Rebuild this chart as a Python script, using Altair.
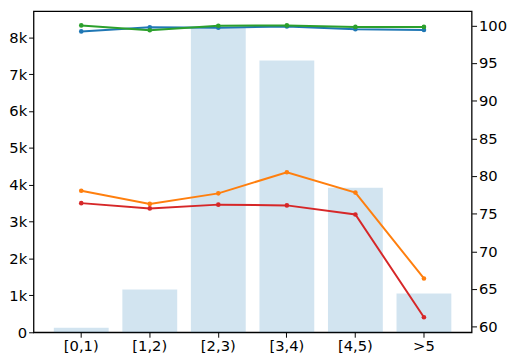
import altair as alt
import pandas as pd

categories = ["[0,1)", "[1,2)", "[2,3)", "[3,4)", "[4,5)", ">5"]
counts = [125, 1160, 8280, 7370, 3920, 1055]
blue_vals = [99.2, 99.75, 99.7, 99.85, 99.5, 99.4]
orange_vals = [78.05, 76.3, 77.7, 80.5, 77.8, 66.4]
green_vals = [100.0, 99.35, 99.95, 100.0, 99.8, 99.8]
red_vals = [76.4, 75.7, 76.2, 76.1, 74.9, 61.25]

series_names = ["blue", "orange", "green", "red"]
series_colors = ["#1f77b4", "#ff7f0e", "#2ca02c", "#d62728"]
series_values = [blue_vals, orange_vals, green_vals, red_vals]

bar_df = pd.DataFrame({"cat": categories, "count": counts})
rows = []
for name, vals in zip(series_names, series_values):
    for c, v in zip(categories, vals):
        rows.append({"cat": c, "series": name, "value": v})
line_df = pd.DataFrame(rows)

FONT = "DejaVu Sans"
FS = 15
RDOM = [59.25, 101.9]

x_enc = alt.X(
    "cat:N",
    sort=categories,
    scale=alt.Scale(paddingInner=0.2, paddingOuter=0.296),
    axis=alt.Axis(title=None, labelAngle=0, domain=False, ticks=True, tickSize=5,
                  tickColor="black", labelPadding=2, bandPosition=0.5, grid=False,
                  labelFont=FONT, labelFontSize=FS, labelColor="black"),
)

bars = alt.Chart(bar_df).mark_bar(color="#1f77b4", opacity=0.2).encode(
    x=x_enc,
    y=alt.Y(
        "count:Q",
        scale=alt.Scale(domain=[0, 8710], nice=False, zero=True),
        axis=alt.Axis(title=None, values=list(range(0, 9000, 1000)),
                      labelExpr="datum.value == 0 ? '0' : (datum.value/1000) + 'k'",
                      domain=False, tickSize=5, tickColor="black", labelPadding=2,
                      grid=False, orient="left",
                      labelFont=FONT, labelFontSize=FS, labelColor="black"),
    ),
)

layers = [bars]
for i, (name, col) in enumerate(zip(series_names, series_colors)):
    if i == 0:
        ax = alt.Axis(title=None, values=[60, 65, 70, 75, 80, 85, 90, 95, 100],
                      domain=False, tickSize=5, tickColor="black", labelPadding=2,
                      grid=False, orient="right",
                      labelFont=FONT, labelFontSize=FS, labelColor="black")
    else:
        ax = None
    ln = alt.Chart(line_df).transform_filter(alt.datum.series == name).mark_line(
        color=col, strokeWidth=2, point=alt.OverlayMarkDef(filled=True, size=22, color=col)
    ).encode(
        x=alt.X("cat:N", sort=categories),
        y=alt.Y("value:Q", scale=alt.Scale(domain=RDOM, nice=False, zero=False), axis=ax),
    )
    layers.append(ln)

chart = alt.layer(*layers).resolve_scale(y="independent").properties(
    width=446, height=327, background="white",
    padding={"left": 0, "right": 0, "top": 0, "bottom": 0}
).configure_view(stroke="black", strokeWidth=1.3)

chart.save("out.html", embed_options={"renderer": "svg", "actions": False})
